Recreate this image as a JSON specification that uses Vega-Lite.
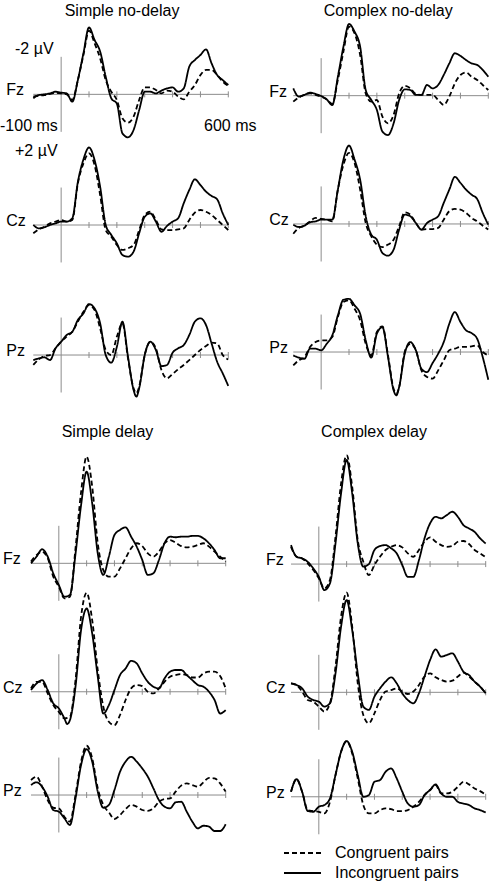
{
"$schema": "https://vega.github.io/schema/vega-lite/v6.json",
"padding": 0,
"background": "white",
"columns": 2,
"spacing": {"row": 0, "column": 30},
"align": "each",
"bounds": "flush",
"datasets": {
"ticks": [{"t":100},{"t":200},{"t":300},{"t":400},{"t":500},{"t":600}],
"SN_Fz": [
{"pair":"Incongruent pairs","t":-100,"v":0.21},{"pair":"Incongruent pairs","t":-80,"v":0.04},{"pair":"Incongruent pairs","t":-60,"v":0},{"pair":"Incongruent pairs","t":-40,"v":-0.05},{"pair":"Incongruent pairs","t":-20,"v":-0.14},{"pair":"Incongruent pairs","t":0,"v":-0.09},{"pair":"Incongruent pairs","t":20,"v":-0.05},{"pair":"Incongruent pairs","t":40,"v":0.39},{"pair":"Incongruent pairs","t":60,"v":-0.76},{"pair":"Incongruent pairs","t":80,"v":-2.19},{"pair":"Incongruent pairs","t":100,"v":-3.57},{"pair":"Incongruent pairs","t":120,"v":-2.9},{"pair":"Incongruent pairs","t":140,"v":-2.28},{"pair":"Incongruent pairs","t":160,"v":-0.94},{"pair":"Incongruent pairs","t":180,"v":0.21},{"pair":"Incongruent pairs","t":200,"v":0.5},{"pair":"Incongruent pairs","t":220,"v":2.08},{"pair":"Incongruent pairs","t":240,"v":2.29},{"pair":"Incongruent pairs","t":260,"v":1.9},{"pair":"Incongruent pairs","t":280,"v":0.84},{"pair":"Incongruent pairs","t":300,"v":-0.14},{"pair":"Incongruent pairs","t":320,"v":-0.14},{"pair":"Incongruent pairs","t":340,"v":-0.05},{"pair":"Incongruent pairs","t":360,"v":-0.2},{"pair":"Incongruent pairs","t":380,"v":-0.32},{"pair":"Incongruent pairs","t":400,"v":-0.37},{"pair":"Incongruent pairs","t":420,"v":-0.14},{"pair":"Incongruent pairs","t":440,"v":-0.32},{"pair":"Incongruent pairs","t":460,"v":-1.48},{"pair":"Incongruent pairs","t":480,"v":-1.83},{"pair":"Incongruent pairs","t":500,"v":-2.1},{"pair":"Incongruent pairs","t":520,"v":-2.4},{"pair":"Incongruent pairs","t":540,"v":-1.65},{"pair":"Incongruent pairs","t":560,"v":-1.03},{"pair":"Incongruent pairs","t":580,"v":-0.76},{"pair":"Incongruent pairs","t":600,"v":-0.5},
{"pair":"Congruent pairs","t":-100,"v":0.12},{"pair":"Congruent pairs","t":-80,"v":0.07},{"pair":"Congruent pairs","t":-60,"v":0.04},{"pair":"Congruent pairs","t":-40,"v":-0.02},{"pair":"Congruent pairs","t":-20,"v":-0.09},{"pair":"Congruent pairs","t":0,"v":-0.05},{"pair":"Congruent pairs","t":20,"v":0},{"pair":"Congruent pairs","t":40,"v":0.3},{"pair":"Congruent pairs","t":60,"v":-0.76},{"pair":"Congruent pairs","t":80,"v":-2.1},{"pair":"Congruent pairs","t":100,"v":-3.4},{"pair":"Congruent pairs","t":120,"v":-2.72},{"pair":"Congruent pairs","t":140,"v":-1.92},{"pair":"Congruent pairs","t":160,"v":-0.76},{"pair":"Congruent pairs","t":180,"v":-0.14},{"pair":"Congruent pairs","t":200,"v":0.3},{"pair":"Congruent pairs","t":220,"v":1.28},{"pair":"Congruent pairs","t":240,"v":1.51},{"pair":"Congruent pairs","t":260,"v":1.19},{"pair":"Congruent pairs","t":280,"v":0.3},{"pair":"Congruent pairs","t":300,"v":-0.37},{"pair":"Congruent pairs","t":320,"v":-0.37},{"pair":"Congruent pairs","t":340,"v":-0.23},{"pair":"Congruent pairs","t":360,"v":-0.05},{"pair":"Congruent pairs","t":380,"v":-0.2},{"pair":"Congruent pairs","t":400,"v":-0.14},{"pair":"Congruent pairs","t":420,"v":0.12},{"pair":"Congruent pairs","t":440,"v":0.27},{"pair":"Congruent pairs","t":460,"v":-0.14},{"pair":"Congruent pairs","t":480,"v":-0.5},{"pair":"Congruent pairs","t":500,"v":-1.03},{"pair":"Congruent pairs","t":520,"v":-1.3},{"pair":"Congruent pairs","t":540,"v":-1.3},{"pair":"Congruent pairs","t":560,"v":-1.03},{"pair":"Congruent pairs","t":580,"v":-0.68},{"pair":"Congruent pairs","t":600,"v":-0.44}
],
"CN_Fz": [
{"pair":"Incongruent pairs","t":-100,"v":-0.39},{"pair":"Incongruent pairs","t":-80,"v":0.05},{"pair":"Incongruent pairs","t":-60,"v":-0.04},{"pair":"Incongruent pairs","t":-40,"v":-0.16},{"pair":"Incongruent pairs","t":-20,"v":-0.09},{"pair":"Incongruent pairs","t":0,"v":0.02},{"pair":"Incongruent pairs","t":20,"v":0.2},{"pair":"Incongruent pairs","t":40,"v":0.5},{"pair":"Incongruent pairs","t":60,"v":-1.01},{"pair":"Incongruent pairs","t":80,"v":-2.61},{"pair":"Incongruent pairs","t":100,"v":-3.82},{"pair":"Incongruent pairs","t":120,"v":-3.41},{"pair":"Incongruent pairs","t":140,"v":-2.61},{"pair":"Incongruent pairs","t":160,"v":-0.3},{"pair":"Incongruent pairs","t":180,"v":0.23},{"pair":"Incongruent pairs","t":200,"v":0.76},{"pair":"Incongruent pairs","t":220,"v":1.92},{"pair":"Incongruent pairs","t":240,"v":2.1},{"pair":"Incongruent pairs","t":260,"v":1.48},{"pair":"Incongruent pairs","t":280,"v":0.23},{"pair":"Incongruent pairs","t":300,"v":-0.34},{"pair":"Incongruent pairs","t":320,"v":-0.3},{"pair":"Incongruent pairs","t":340,"v":-0.04},{"pair":"Incongruent pairs","t":360,"v":-0.04},{"pair":"Incongruent pairs","t":380,"v":-0.57},{"pair":"Incongruent pairs","t":400,"v":-0.39},{"pair":"Incongruent pairs","t":420,"v":-0.57},{"pair":"Incongruent pairs","t":440,"v":-1.1},{"pair":"Incongruent pairs","t":460,"v":-1.72},{"pair":"Incongruent pairs","t":480,"v":-2.26},{"pair":"Incongruent pairs","t":500,"v":-2.12},{"pair":"Incongruent pairs","t":520,"v":-1.9},{"pair":"Incongruent pairs","t":540,"v":-1.72},{"pair":"Incongruent pairs","t":560,"v":-1.64},{"pair":"Incongruent pairs","t":580,"v":-1.37},{"pair":"Incongruent pairs","t":600,"v":-1.01},
{"pair":"Congruent pairs","t":-100,"v":0.32},{"pair":"Congruent pairs","t":-80,"v":0.09},{"pair":"Congruent pairs","t":-60,"v":-0.04},{"pair":"Congruent pairs","t":-40,"v":-0.12},{"pair":"Congruent pairs","t":-20,"v":-0.04},{"pair":"Congruent pairs","t":0,"v":0.05},{"pair":"Congruent pairs","t":20,"v":0.2},{"pair":"Congruent pairs","t":40,"v":0.44},{"pair":"Congruent pairs","t":60,"v":-0.84},{"pair":"Congruent pairs","t":80,"v":-2.35},{"pair":"Congruent pairs","t":100,"v":-3.68},{"pair":"Congruent pairs","t":120,"v":-3.32},{"pair":"Congruent pairs","t":140,"v":-2.17},{"pair":"Congruent pairs","t":160,"v":-0.12},{"pair":"Congruent pairs","t":180,"v":0.32},{"pair":"Congruent pairs","t":200,"v":0.23},{"pair":"Congruent pairs","t":220,"v":1.12},{"pair":"Congruent pairs","t":240,"v":1.48},{"pair":"Congruent pairs","t":260,"v":1.03},{"pair":"Congruent pairs","t":280,"v":-0.12},{"pair":"Congruent pairs","t":300,"v":-0.52},{"pair":"Congruent pairs","t":320,"v":-0.39},{"pair":"Congruent pairs","t":340,"v":-0.09},{"pair":"Congruent pairs","t":360,"v":-0.04},{"pair":"Congruent pairs","t":380,"v":-0.04},{"pair":"Congruent pairs","t":400,"v":-0.04},{"pair":"Congruent pairs","t":420,"v":0.23},{"pair":"Congruent pairs","t":440,"v":0.5},{"pair":"Congruent pairs","t":460,"v":0.05},{"pair":"Congruent pairs","t":480,"v":-0.66},{"pair":"Congruent pairs","t":500,"v":-1.1},{"pair":"Congruent pairs","t":520,"v":-1.23},{"pair":"Congruent pairs","t":540,"v":-1.01},{"pair":"Congruent pairs","t":560,"v":-0.84},{"pair":"Congruent pairs","t":580,"v":-0.57},{"pair":"Congruent pairs","t":600,"v":-0.3}
],
"SN_Cz": [
{"pair":"Incongruent pairs","t":-100,"v":0},{"pair":"Incongruent pairs","t":-80,"v":0.18},{"pair":"Incongruent pairs","t":-60,"v":0.12},{"pair":"Incongruent pairs","t":-40,"v":0},{"pair":"Incongruent pairs","t":-20,"v":-0.09},{"pair":"Incongruent pairs","t":0,"v":-0.18},{"pair":"Incongruent pairs","t":20,"v":-0.18},{"pair":"Incongruent pairs","t":40,"v":-0.36},{"pair":"Incongruent pairs","t":60,"v":-2.3},{"pair":"Incongruent pairs","t":80,"v":-3.5},{"pair":"Incongruent pairs","t":100,"v":-4.14},{"pair":"Incongruent pairs","t":120,"v":-3.47},{"pair":"Incongruent pairs","t":140,"v":-2.04},{"pair":"Incongruent pairs","t":160,"v":0},{"pair":"Incongruent pairs","t":180,"v":0.53},{"pair":"Incongruent pairs","t":200,"v":0.98},{"pair":"Incongruent pairs","t":220,"v":1.6},{"pair":"Incongruent pairs","t":240,"v":1.69},{"pair":"Incongruent pairs","t":260,"v":1.42},{"pair":"Incongruent pairs","t":280,"v":0.44},{"pair":"Incongruent pairs","t":300,"v":-0.44},{"pair":"Incongruent pairs","t":320,"v":-0.62},{"pair":"Incongruent pairs","t":340,"v":-0.18},{"pair":"Incongruent pairs","t":360,"v":0.36},{"pair":"Incongruent pairs","t":380,"v":0.05},{"pair":"Incongruent pairs","t":400,"v":-0.18},{"pair":"Incongruent pairs","t":420,"v":-0.36},{"pair":"Incongruent pairs","t":440,"v":-1.16},{"pair":"Incongruent pairs","t":460,"v":-1.87},{"pair":"Incongruent pairs","t":480,"v":-2.44},{"pair":"Incongruent pairs","t":500,"v":-2.13},{"pair":"Incongruent pairs","t":520,"v":-1.78},{"pair":"Incongruent pairs","t":540,"v":-1.55},{"pair":"Incongruent pairs","t":560,"v":-1.37},{"pair":"Incongruent pairs","t":580,"v":-0.62},{"pair":"Incongruent pairs","t":600,"v":0},
{"pair":"Congruent pairs","t":-100,"v":0.44},{"pair":"Congruent pairs","t":-80,"v":0.23},{"pair":"Congruent pairs","t":-60,"v":0.09},{"pair":"Congruent pairs","t":-40,"v":-0.09},{"pair":"Congruent pairs","t":-20,"v":-0.18},{"pair":"Congruent pairs","t":0,"v":-0.27},{"pair":"Congruent pairs","t":20,"v":-0.18},{"pair":"Congruent pairs","t":40,"v":-0.27},{"pair":"Congruent pairs","t":60,"v":-2.22},{"pair":"Congruent pairs","t":80,"v":-3.29},{"pair":"Congruent pairs","t":100,"v":-3.82},{"pair":"Congruent pairs","t":120,"v":-3.2},{"pair":"Congruent pairs","t":140,"v":-1.6},{"pair":"Congruent pairs","t":160,"v":0.27},{"pair":"Congruent pairs","t":180,"v":0.62},{"pair":"Congruent pairs","t":200,"v":1.07},{"pair":"Congruent pairs","t":220,"v":1.33},{"pair":"Congruent pairs","t":240,"v":1.24},{"pair":"Congruent pairs","t":260,"v":1.07},{"pair":"Congruent pairs","t":280,"v":0.27},{"pair":"Congruent pairs","t":300,"v":-0.53},{"pair":"Congruent pairs","t":320,"v":-0.71},{"pair":"Congruent pairs","t":340,"v":-0.27},{"pair":"Congruent pairs","t":360,"v":0.23},{"pair":"Congruent pairs","t":380,"v":0.27},{"pair":"Congruent pairs","t":400,"v":0.27},{"pair":"Congruent pairs","t":420,"v":0.23},{"pair":"Congruent pairs","t":440,"v":0.18},{"pair":"Congruent pairs","t":460,"v":-0.27},{"pair":"Congruent pairs","t":480,"v":-0.66},{"pair":"Congruent pairs","t":500,"v":-0.8},{"pair":"Congruent pairs","t":520,"v":-0.71},{"pair":"Congruent pairs","t":540,"v":-0.53},{"pair":"Congruent pairs","t":560,"v":-0.27},{"pair":"Congruent pairs","t":580,"v":0},{"pair":"Congruent pairs","t":600,"v":0.27}
],
"CN_Cz": [
{"pair":"Incongruent pairs","t":-100,"v":0.04},{"pair":"Incongruent pairs","t":-80,"v":0.16},{"pair":"Incongruent pairs","t":-60,"v":0.09},{"pair":"Incongruent pairs","t":-40,"v":-0.09},{"pair":"Incongruent pairs","t":-20,"v":-0.14},{"pair":"Incongruent pairs","t":0,"v":-0.23},{"pair":"Incongruent pairs","t":20,"v":-0.23},{"pair":"Incongruent pairs","t":40,"v":-0.23},{"pair":"Incongruent pairs","t":60,"v":-1.83},{"pair":"Incongruent pairs","t":80,"v":-3.43},{"pair":"Incongruent pairs","t":100,"v":-4.18},{"pair":"Incongruent pairs","t":120,"v":-3.43},{"pair":"Incongruent pairs","t":140,"v":-2.36},{"pair":"Incongruent pairs","t":160,"v":-0.41},{"pair":"Incongruent pairs","t":180,"v":0.57},{"pair":"Incongruent pairs","t":200,"v":0.84},{"pair":"Incongruent pairs","t":220,"v":1.55},{"pair":"Incongruent pairs","t":240,"v":1.69},{"pair":"Incongruent pairs","t":260,"v":1.37},{"pair":"Incongruent pairs","t":280,"v":0.3},{"pair":"Incongruent pairs","t":300,"v":-0.5},{"pair":"Incongruent pairs","t":320,"v":-0.41},{"pair":"Incongruent pairs","t":340,"v":-0.05},{"pair":"Incongruent pairs","t":360,"v":0.3},{"pair":"Incongruent pairs","t":380,"v":-0.05},{"pair":"Incongruent pairs","t":400,"v":-0.23},{"pair":"Incongruent pairs","t":420,"v":-0.41},{"pair":"Incongruent pairs","t":440,"v":-1.12},{"pair":"Incongruent pairs","t":460,"v":-1.83},{"pair":"Incongruent pairs","t":480,"v":-2.51},{"pair":"Incongruent pairs","t":500,"v":-2.19},{"pair":"Incongruent pairs","t":520,"v":-1.83},{"pair":"Incongruent pairs","t":540,"v":-1.56},{"pair":"Incongruent pairs","t":560,"v":-1.33},{"pair":"Incongruent pairs","t":580,"v":-0.59},{"pair":"Incongruent pairs","t":600,"v":0.04},
{"pair":"Congruent pairs","t":-100,"v":0.52},{"pair":"Congruent pairs","t":-80,"v":0.21},{"pair":"Congruent pairs","t":-60,"v":0.09},{"pair":"Congruent pairs","t":-40,"v":-0.14},{"pair":"Congruent pairs","t":-20,"v":-0.32},{"pair":"Congruent pairs","t":0,"v":-0.27},{"pair":"Congruent pairs","t":20,"v":-0.23},{"pair":"Congruent pairs","t":40,"v":-0.14},{"pair":"Congruent pairs","t":60,"v":-1.83},{"pair":"Congruent pairs","t":80,"v":-3.16},{"pair":"Congruent pairs","t":100,"v":-3.79},{"pair":"Congruent pairs","t":120,"v":-3.25},{"pair":"Congruent pairs","t":140,"v":-1.83},{"pair":"Congruent pairs","t":160,"v":-0.05},{"pair":"Congruent pairs","t":180,"v":0.66},{"pair":"Congruent pairs","t":200,"v":1.1},{"pair":"Congruent pairs","t":220,"v":1.23},{"pair":"Congruent pairs","t":240,"v":1.1},{"pair":"Congruent pairs","t":260,"v":0.84},{"pair":"Congruent pairs","t":280,"v":0.12},{"pair":"Congruent pairs","t":300,"v":-0.62},{"pair":"Congruent pairs","t":320,"v":-0.5},{"pair":"Congruent pairs","t":340,"v":-0.05},{"pair":"Congruent pairs","t":360,"v":0.3},{"pair":"Congruent pairs","t":380,"v":0.27},{"pair":"Congruent pairs","t":400,"v":0.27},{"pair":"Congruent pairs","t":420,"v":0.21},{"pair":"Congruent pairs","t":440,"v":-0.23},{"pair":"Congruent pairs","t":460,"v":-0.68},{"pair":"Congruent pairs","t":480,"v":-0.8},{"pair":"Congruent pairs","t":500,"v":-0.76},{"pair":"Congruent pairs","t":520,"v":-0.59},{"pair":"Congruent pairs","t":540,"v":-0.32},{"pair":"Congruent pairs","t":560,"v":-0.14},{"pair":"Congruent pairs","t":580,"v":0.09},{"pair":"Congruent pairs","t":600,"v":0.3}
],
"SN_Pz": [
{"pair":"Incongruent pairs","t":-100,"v":0.27},{"pair":"Incongruent pairs","t":-80,"v":0.18},{"pair":"Incongruent pairs","t":-60,"v":0.12},{"pair":"Incongruent pairs","t":-40,"v":0.27},{"pair":"Incongruent pairs","t":-20,"v":-0.36},{"pair":"Incongruent pairs","t":0,"v":-0.71},{"pair":"Incongruent pairs","t":20,"v":-1.07},{"pair":"Incongruent pairs","t":40,"v":-1.24},{"pair":"Incongruent pairs","t":60,"v":-1.87},{"pair":"Incongruent pairs","t":80,"v":-2.22},{"pair":"Incongruent pairs","t":100,"v":-2.72},{"pair":"Incongruent pairs","t":120,"v":-2.49},{"pair":"Incongruent pairs","t":140,"v":-1.69},{"pair":"Incongruent pairs","t":160,"v":0},{"pair":"Incongruent pairs","t":180,"v":0.41},{"pair":"Incongruent pairs","t":200,"v":-0.44},{"pair":"Incongruent pairs","t":220,"v":-1.78},{"pair":"Incongruent pairs","t":240,"v":0.09},{"pair":"Incongruent pairs","t":260,"v":1.87},{"pair":"Incongruent pairs","t":270,"v":2.22},{"pair":"Incongruent pairs","t":280,"v":1.78},{"pair":"Incongruent pairs","t":300,"v":0},{"pair":"Incongruent pairs","t":320,"v":-0.71},{"pair":"Incongruent pairs","t":340,"v":-0.27},{"pair":"Incongruent pairs","t":360,"v":0.59},{"pair":"Incongruent pairs","t":380,"v":0.53},{"pair":"Incongruent pairs","t":400,"v":-0.12},{"pair":"Incongruent pairs","t":420,"v":-0.36},{"pair":"Incongruent pairs","t":440,"v":-0.53},{"pair":"Incongruent pairs","t":460,"v":-1.07},{"pair":"Incongruent pairs","t":480,"v":-1.78},{"pair":"Incongruent pairs","t":500,"v":-1.96},{"pair":"Incongruent pairs","t":520,"v":-1.6},{"pair":"Incongruent pairs","t":540,"v":-0.62},{"pair":"Incongruent pairs","t":560,"v":0.36},{"pair":"Incongruent pairs","t":580,"v":0.98},{"pair":"Incongruent pairs","t":600,"v":1.65},
{"pair":"Congruent pairs","t":-100,"v":0.53},{"pair":"Congruent pairs","t":-80,"v":0.23},{"pair":"Congruent pairs","t":-60,"v":0.05},{"pair":"Congruent pairs","t":-40,"v":0},{"pair":"Congruent pairs","t":-20,"v":-0.36},{"pair":"Congruent pairs","t":0,"v":-0.71},{"pair":"Congruent pairs","t":20,"v":-0.98},{"pair":"Congruent pairs","t":40,"v":-1.24},{"pair":"Congruent pairs","t":60,"v":-1.78},{"pair":"Congruent pairs","t":80,"v":-2.31},{"pair":"Congruent pairs","t":100,"v":-2.67},{"pair":"Congruent pairs","t":120,"v":-2.4},{"pair":"Congruent pairs","t":140,"v":-1.42},{"pair":"Congruent pairs","t":160,"v":-0.27},{"pair":"Congruent pairs","t":180,"v":0},{"pair":"Congruent pairs","t":200,"v":-0.98},{"pair":"Congruent pairs","t":220,"v":-1.69},{"pair":"Congruent pairs","t":240,"v":0.18},{"pair":"Congruent pairs","t":260,"v":1.78},{"pair":"Congruent pairs","t":270,"v":2.04},{"pair":"Congruent pairs","t":280,"v":1.69},{"pair":"Congruent pairs","t":300,"v":0},{"pair":"Congruent pairs","t":320,"v":-0.71},{"pair":"Congruent pairs","t":340,"v":-0.36},{"pair":"Congruent pairs","t":360,"v":0.8},{"pair":"Congruent pairs","t":380,"v":1.24},{"pair":"Congruent pairs","t":400,"v":1.01},{"pair":"Congruent pairs","t":420,"v":0.76},{"pair":"Congruent pairs","t":440,"v":0.53},{"pair":"Congruent pairs","t":460,"v":0.27},{"pair":"Congruent pairs","t":480,"v":0},{"pair":"Congruent pairs","t":500,"v":-0.27},{"pair":"Congruent pairs","t":520,"v":-0.48},{"pair":"Congruent pairs","t":540,"v":-0.66},{"pair":"Congruent pairs","t":560,"v":-0.62},{"pair":"Congruent pairs","t":580,"v":0},{"pair":"Congruent pairs","t":600,"v":0.23}
],
"CN_Pz": [
{"pair":"Incongruent pairs","t":-100,"v":0.18},{"pair":"Incongruent pairs","t":-80,"v":0.3},{"pair":"Incongruent pairs","t":-60,"v":0.36},{"pair":"Incongruent pairs","t":-40,"v":-0.18},{"pair":"Incongruent pairs","t":-20,"v":-0.18},{"pair":"Incongruent pairs","t":0,"v":-0.09},{"pair":"Incongruent pairs","t":20,"v":-0.44},{"pair":"Incongruent pairs","t":40,"v":-0.89},{"pair":"Incongruent pairs","t":60,"v":-1.96},{"pair":"Incongruent pairs","t":80,"v":-2.79},{"pair":"Incongruent pairs","t":100,"v":-2.84},{"pair":"Incongruent pairs","t":120,"v":-2.49},{"pair":"Incongruent pairs","t":140,"v":-2.04},{"pair":"Incongruent pairs","t":160,"v":-0.62},{"pair":"Incongruent pairs","t":180,"v":0.3},{"pair":"Incongruent pairs","t":200,"v":-0.98},{"pair":"Incongruent pairs","t":220,"v":-1.33},{"pair":"Incongruent pairs","t":240,"v":0.27},{"pair":"Incongruent pairs","t":260,"v":2.04},{"pair":"Incongruent pairs","t":270,"v":2.31},{"pair":"Incongruent pairs","t":280,"v":1.87},{"pair":"Incongruent pairs","t":300,"v":0.09},{"pair":"Incongruent pairs","t":320,"v":-0.53},{"pair":"Incongruent pairs","t":340,"v":-0.09},{"pair":"Incongruent pairs","t":360,"v":0.89},{"pair":"Incongruent pairs","t":380,"v":1.07},{"pair":"Incongruent pairs","t":400,"v":0.59},{"pair":"Incongruent pairs","t":420,"v":0.09},{"pair":"Incongruent pairs","t":440,"v":-0.53},{"pair":"Incongruent pairs","t":460,"v":-1.51},{"pair":"Incongruent pairs","t":480,"v":-2.13},{"pair":"Incongruent pairs","t":500,"v":-1.6},{"pair":"Incongruent pairs","t":520,"v":-1.16},{"pair":"Incongruent pairs","t":540,"v":-1.01},{"pair":"Incongruent pairs","t":560,"v":-0.71},{"pair":"Incongruent pairs","t":580,"v":0.27},{"pair":"Incongruent pairs","t":600,"v":1.48},
{"pair":"Congruent pairs","t":-100,"v":0.71},{"pair":"Congruent pairs","t":-80,"v":0.44},{"pair":"Congruent pairs","t":-60,"v":0.27},{"pair":"Congruent pairs","t":-40,"v":-0.27},{"pair":"Congruent pairs","t":-20,"v":-0.53},{"pair":"Congruent pairs","t":0,"v":-0.62},{"pair":"Congruent pairs","t":20,"v":-0.62},{"pair":"Congruent pairs","t":40,"v":-0.8},{"pair":"Congruent pairs","t":60,"v":-1.87},{"pair":"Congruent pairs","t":80,"v":-2.67},{"pair":"Congruent pairs","t":100,"v":-2.76},{"pair":"Congruent pairs","t":120,"v":-2.31},{"pair":"Congruent pairs","t":140,"v":-1.69},{"pair":"Congruent pairs","t":160,"v":-0.44},{"pair":"Congruent pairs","t":180,"v":0.18},{"pair":"Congruent pairs","t":200,"v":-1.07},{"pair":"Congruent pairs","t":220,"v":-1.37},{"pair":"Congruent pairs","t":240,"v":0.18},{"pair":"Congruent pairs","t":260,"v":1.96},{"pair":"Congruent pairs","t":270,"v":2.22},{"pair":"Congruent pairs","t":280,"v":1.87},{"pair":"Congruent pairs","t":300,"v":0},{"pair":"Congruent pairs","t":320,"v":-0.44},{"pair":"Congruent pairs","t":340,"v":-0.09},{"pair":"Congruent pairs","t":360,"v":0.98},{"pair":"Congruent pairs","t":380,"v":1.33},{"pair":"Congruent pairs","t":400,"v":1.42},{"pair":"Congruent pairs","t":420,"v":0.98},{"pair":"Congruent pairs","t":440,"v":0.44},{"pair":"Congruent pairs","t":460,"v":-0.09},{"pair":"Congruent pairs","t":480,"v":-0.18},{"pair":"Congruent pairs","t":500,"v":-0.27},{"pair":"Congruent pairs","t":520,"v":-0.27},{"pair":"Congruent pairs","t":540,"v":-0.3},{"pair":"Congruent pairs","t":560,"v":-0.36},{"pair":"Congruent pairs","t":580,"v":0},{"pair":"Congruent pairs","t":600,"v":0.18}
],
"SD_Fz": [
{"pair":"Incongruent pairs","t":-100,"v":0},{"pair":"Incongruent pairs","t":-80,"v":-0.36},{"pair":"Incongruent pairs","t":-60,"v":-0.75},{"pair":"Incongruent pairs","t":-40,"v":-0.36},{"pair":"Incongruent pairs","t":-20,"v":0.53},{"pair":"Incongruent pairs","t":0,"v":1.16},{"pair":"Incongruent pairs","t":20,"v":1.78},{"pair":"Incongruent pairs","t":40,"v":1.69},{"pair":"Incongruent pairs","t":60,"v":-0.5},{"pair":"Incongruent pairs","t":80,"v":-3.1},{"pair":"Incongruent pairs","t":100,"v":-4.89},{"pair":"Incongruent pairs","t":120,"v":-3.2},{"pair":"Incongruent pairs","t":140,"v":-0.53},{"pair":"Incongruent pairs","t":160,"v":0.62},{"pair":"Incongruent pairs","t":180,"v":-0.36},{"pair":"Incongruent pairs","t":200,"v":-1.51},{"pair":"Incongruent pairs","t":220,"v":-1.78},{"pair":"Incongruent pairs","t":240,"v":-1.92},{"pair":"Incongruent pairs","t":260,"v":-1.42},{"pair":"Incongruent pairs","t":280,"v":-0.89},{"pair":"Incongruent pairs","t":300,"v":-0.18},{"pair":"Incongruent pairs","t":320,"v":0.62},{"pair":"Incongruent pairs","t":340,"v":0.53},{"pair":"Incongruent pairs","t":360,"v":-0.18},{"pair":"Incongruent pairs","t":380,"v":-1.07},{"pair":"Incongruent pairs","t":400,"v":-1.42},{"pair":"Incongruent pairs","t":420,"v":-1.39},{"pair":"Incongruent pairs","t":440,"v":-1.42},{"pair":"Incongruent pairs","t":460,"v":-1.42},{"pair":"Incongruent pairs","t":480,"v":-1.46},{"pair":"Incongruent pairs","t":500,"v":-1.46},{"pair":"Incongruent pairs","t":520,"v":-1.33},{"pair":"Incongruent pairs","t":540,"v":-1.07},{"pair":"Incongruent pairs","t":560,"v":-0.71},{"pair":"Incongruent pairs","t":580,"v":-0.27},{"pair":"Incongruent pairs","t":600,"v":-0.27},
{"pair":"Congruent pairs","t":-100,"v":-0.09},{"pair":"Congruent pairs","t":-80,"v":-0.44},{"pair":"Congruent pairs","t":-60,"v":-0.62},{"pair":"Congruent pairs","t":-40,"v":-0.27},{"pair":"Congruent pairs","t":-20,"v":0.71},{"pair":"Congruent pairs","t":0,"v":1.24},{"pair":"Congruent pairs","t":20,"v":1.87},{"pair":"Congruent pairs","t":40,"v":1.78},{"pair":"Congruent pairs","t":60,"v":-0.8},{"pair":"Congruent pairs","t":80,"v":-3.8},{"pair":"Congruent pairs","t":100,"v":-5.69},{"pair":"Congruent pairs","t":120,"v":-4.09},{"pair":"Congruent pairs","t":140,"v":-1.07},{"pair":"Congruent pairs","t":160,"v":0.36},{"pair":"Congruent pairs","t":180,"v":0.71},{"pair":"Congruent pairs","t":200,"v":0.71},{"pair":"Congruent pairs","t":220,"v":0.27},{"pair":"Congruent pairs","t":240,"v":-0.27},{"pair":"Congruent pairs","t":260,"v":-0.8},{"pair":"Congruent pairs","t":280,"v":-1.07},{"pair":"Congruent pairs","t":300,"v":-0.92},{"pair":"Congruent pairs","t":320,"v":-0.53},{"pair":"Congruent pairs","t":340,"v":-0.36},{"pair":"Congruent pairs","t":360,"v":-0.62},{"pair":"Congruent pairs","t":380,"v":-1.07},{"pair":"Congruent pairs","t":400,"v":-1.24},{"pair":"Congruent pairs","t":420,"v":-1.1},{"pair":"Congruent pairs","t":440,"v":-0.92},{"pair":"Congruent pairs","t":460,"v":-0.85},{"pair":"Congruent pairs","t":480,"v":-0.89},{"pair":"Congruent pairs","t":500,"v":-0.98},{"pair":"Congruent pairs","t":520,"v":-1.07},{"pair":"Congruent pairs","t":540,"v":-0.89},{"pair":"Congruent pairs","t":560,"v":-0.62},{"pair":"Congruent pairs","t":580,"v":-0.36},{"pair":"Congruent pairs","t":600,"v":-0.09}
],
"CD_Fz": [
{"pair":"Incongruent pairs","t":-100,"v":-1.01},{"pair":"Incongruent pairs","t":-80,"v":-0.39},{"pair":"Incongruent pairs","t":-60,"v":-0.3},{"pair":"Incongruent pairs","t":-40,"v":-0.12},{"pair":"Incongruent pairs","t":-20,"v":0.23},{"pair":"Incongruent pairs","t":0,"v":0.68},{"pair":"Incongruent pairs","t":20,"v":1.39},{"pair":"Incongruent pairs","t":40,"v":1.03},{"pair":"Incongruent pairs","t":60,"v":-1.1},{"pair":"Incongruent pairs","t":80,"v":-3.77},{"pair":"Incongruent pairs","t":100,"v":-5.55},{"pair":"Incongruent pairs","t":120,"v":-3.77},{"pair":"Incongruent pairs","t":140,"v":-1.1},{"pair":"Incongruent pairs","t":160,"v":0.14},{"pair":"Incongruent pairs","t":180,"v":0},{"pair":"Incongruent pairs","t":200,"v":-0.75},{"pair":"Incongruent pairs","t":220,"v":-0.96},{"pair":"Incongruent pairs","t":240,"v":-1.01},{"pair":"Incongruent pairs","t":260,"v":-0.84},{"pair":"Incongruent pairs","t":280,"v":-0.57},{"pair":"Incongruent pairs","t":300,"v":0.05},{"pair":"Incongruent pairs","t":320,"v":0.68},{"pair":"Incongruent pairs","t":340,"v":0.68},{"pair":"Incongruent pairs","t":360,"v":-0.21},{"pair":"Incongruent pairs","t":380,"v":-1.37},{"pair":"Incongruent pairs","t":400,"v":-2.17},{"pair":"Incongruent pairs","t":420,"v":-2.52},{"pair":"Incongruent pairs","t":440,"v":-2.44},{"pair":"Incongruent pairs","t":460,"v":-2.61},{"pair":"Incongruent pairs","t":480,"v":-2.79},{"pair":"Incongruent pairs","t":500,"v":-2.52},{"pair":"Incongruent pairs","t":520,"v":-2.08},{"pair":"Incongruent pairs","t":540,"v":-1.9},{"pair":"Incongruent pairs","t":560,"v":-1.72},{"pair":"Incongruent pairs","t":580,"v":-1.37},{"pair":"Incongruent pairs","t":600,"v":-1.1},
{"pair":"Congruent pairs","t":-100,"v":-0.92},{"pair":"Congruent pairs","t":-80,"v":-0.39},{"pair":"Congruent pairs","t":-60,"v":-0.3},{"pair":"Congruent pairs","t":-40,"v":-0.04},{"pair":"Congruent pairs","t":-20,"v":0.32},{"pair":"Congruent pairs","t":0,"v":0.76},{"pair":"Congruent pairs","t":20,"v":1.3},{"pair":"Congruent pairs","t":40,"v":0.85},{"pair":"Congruent pairs","t":60,"v":-1.46},{"pair":"Congruent pairs","t":80,"v":-4.3},{"pair":"Congruent pairs","t":100,"v":-5.81},{"pair":"Congruent pairs","t":120,"v":-4.12},{"pair":"Congruent pairs","t":140,"v":-1.28},{"pair":"Congruent pairs","t":160,"v":-0.12},{"pair":"Congruent pairs","t":180,"v":0.59},{"pair":"Congruent pairs","t":200,"v":0.05},{"pair":"Congruent pairs","t":220,"v":-0.39},{"pair":"Congruent pairs","t":240,"v":-0.75},{"pair":"Congruent pairs","t":260,"v":-0.92},{"pair":"Congruent pairs","t":280,"v":-1.01},{"pair":"Congruent pairs","t":300,"v":-0.89},{"pair":"Congruent pairs","t":320,"v":-0.57},{"pair":"Congruent pairs","t":340,"v":-0.39},{"pair":"Congruent pairs","t":360,"v":-0.75},{"pair":"Congruent pairs","t":380,"v":-1.19},{"pair":"Congruent pairs","t":400,"v":-1.42},{"pair":"Congruent pairs","t":420,"v":-1.19},{"pair":"Congruent pairs","t":440,"v":-1.01},{"pair":"Congruent pairs","t":460,"v":-0.92},{"pair":"Congruent pairs","t":480,"v":-0.96},{"pair":"Congruent pairs","t":500,"v":-1.19},{"pair":"Congruent pairs","t":520,"v":-1.23},{"pair":"Congruent pairs","t":540,"v":-1.07},{"pair":"Congruent pairs","t":560,"v":-0.75},{"pair":"Congruent pairs","t":580,"v":-0.57},{"pair":"Congruent pairs","t":600,"v":-0.36}
],
"SD_Cz": [
{"pair":"Incongruent pairs","t":-100,"v":-0.09},{"pair":"Incongruent pairs","t":-80,"v":-0.44},{"pair":"Incongruent pairs","t":-60,"v":-0.62},{"pair":"Incongruent pairs","t":-40,"v":-0.09},{"pair":"Incongruent pairs","t":-20,"v":0.62},{"pair":"Incongruent pairs","t":0,"v":0.89},{"pair":"Incongruent pairs","t":20,"v":1.42},{"pair":"Incongruent pairs","t":30,"v":1.72},{"pair":"Incongruent pairs","t":40,"v":1.51},{"pair":"Incongruent pairs","t":60,"v":-0.27},{"pair":"Incongruent pairs","t":80,"v":-3.29},{"pair":"Incongruent pairs","t":100,"v":-4.44},{"pair":"Incongruent pairs","t":120,"v":-3.11},{"pair":"Incongruent pairs","t":140,"v":-0.8},{"pair":"Incongruent pairs","t":160,"v":1.16},{"pair":"Incongruent pairs","t":180,"v":0.71},{"pair":"Incongruent pairs","t":200,"v":-0.09},{"pair":"Incongruent pairs","t":220,"v":-0.89},{"pair":"Incongruent pairs","t":240,"v":-1.24},{"pair":"Incongruent pairs","t":260,"v":-1.65},{"pair":"Incongruent pairs","t":280,"v":-1.51},{"pair":"Incongruent pairs","t":300,"v":-0.98},{"pair":"Incongruent pairs","t":320,"v":-0.53},{"pair":"Incongruent pairs","t":340,"v":-0.27},{"pair":"Incongruent pairs","t":360,"v":-0.18},{"pair":"Incongruent pairs","t":380,"v":-0.71},{"pair":"Incongruent pairs","t":400,"v":-1.07},{"pair":"Incongruent pairs","t":420,"v":-1.16},{"pair":"Incongruent pairs","t":440,"v":-1.16},{"pair":"Incongruent pairs","t":460,"v":-0.89},{"pair":"Incongruent pairs","t":480,"v":-0.62},{"pair":"Incongruent pairs","t":500,"v":-0.36},{"pair":"Incongruent pairs","t":520,"v":-0.27},{"pair":"Incongruent pairs","t":540,"v":0},{"pair":"Incongruent pairs","t":560,"v":0.44},{"pair":"Incongruent pairs","t":580,"v":1.16},{"pair":"Incongruent pairs","t":600,"v":0.98},
{"pair":"Congruent pairs","t":-100,"v":-0.18},{"pair":"Congruent pairs","t":-80,"v":-0.53},{"pair":"Congruent pairs","t":-60,"v":-0.53},{"pair":"Congruent pairs","t":-40,"v":0.09},{"pair":"Congruent pairs","t":-20,"v":0.71},{"pair":"Congruent pairs","t":0,"v":1.07},{"pair":"Congruent pairs","t":20,"v":1.42},{"pair":"Congruent pairs","t":40,"v":1.33},{"pair":"Congruent pairs","t":60,"v":-0.62},{"pair":"Congruent pairs","t":80,"v":-4},{"pair":"Congruent pairs","t":100,"v":-5.28},{"pair":"Congruent pairs","t":120,"v":-3.82},{"pair":"Congruent pairs","t":140,"v":-1.16},{"pair":"Congruent pairs","t":160,"v":0.8},{"pair":"Congruent pairs","t":180,"v":1.6},{"pair":"Congruent pairs","t":200,"v":1.78},{"pair":"Congruent pairs","t":220,"v":1.24},{"pair":"Congruent pairs","t":240,"v":0.44},{"pair":"Congruent pairs","t":260,"v":-0.18},{"pair":"Congruent pairs","t":280,"v":-0.36},{"pair":"Congruent pairs","t":300,"v":-0.3},{"pair":"Congruent pairs","t":320,"v":0},{"pair":"Congruent pairs","t":340,"v":0.09},{"pair":"Congruent pairs","t":360,"v":-0.18},{"pair":"Congruent pairs","t":380,"v":-0.53},{"pair":"Congruent pairs","t":400,"v":-0.8},{"pair":"Congruent pairs","t":420,"v":-0.89},{"pair":"Congruent pairs","t":440,"v":-0.94},{"pair":"Congruent pairs","t":460,"v":-0.89},{"pair":"Congruent pairs","t":480,"v":-0.76},{"pair":"Congruent pairs","t":500,"v":-0.76},{"pair":"Congruent pairs","t":520,"v":-0.98},{"pair":"Congruent pairs","t":540,"v":-1.07},{"pair":"Congruent pairs","t":560,"v":-1.07},{"pair":"Congruent pairs","t":580,"v":-0.84},{"pair":"Congruent pairs","t":600,"v":-0.18}
],
"CD_Cz": [
{"pair":"Incongruent pairs","t":-100,"v":-0.48},{"pair":"Incongruent pairs","t":-80,"v":-0.39},{"pair":"Incongruent pairs","t":-60,"v":-0.21},{"pair":"Incongruent pairs","t":-40,"v":0.23},{"pair":"Incongruent pairs","t":-20,"v":0.41},{"pair":"Incongruent pairs","t":0,"v":0.5},{"pair":"Incongruent pairs","t":20,"v":0.76},{"pair":"Incongruent pairs","t":40,"v":0.59},{"pair":"Incongruent pairs","t":60,"v":-1.01},{"pair":"Incongruent pairs","t":80,"v":-3.5},{"pair":"Incongruent pairs","t":100,"v":-4.92},{"pair":"Incongruent pairs","t":120,"v":-3.32},{"pair":"Incongruent pairs","t":140,"v":-1.01},{"pair":"Incongruent pairs","t":160,"v":0.76},{"pair":"Incongruent pairs","t":180,"v":0.94},{"pair":"Incongruent pairs","t":200,"v":0.23},{"pair":"Incongruent pairs","t":220,"v":-0.21},{"pair":"Incongruent pairs","t":240,"v":-0.57},{"pair":"Incongruent pairs","t":260,"v":-0.8},{"pair":"Incongruent pairs","t":280,"v":-0.48},{"pair":"Incongruent pairs","t":300,"v":0.05},{"pair":"Incongruent pairs","t":320,"v":0.41},{"pair":"Incongruent pairs","t":340,"v":0.59},{"pair":"Incongruent pairs","t":360,"v":0.05},{"pair":"Incongruent pairs","t":380,"v":-0.84},{"pair":"Incongruent pairs","t":400,"v":-1.72},{"pair":"Incongruent pairs","t":420,"v":-2.29},{"pair":"Incongruent pairs","t":440,"v":-1.9},{"pair":"Incongruent pairs","t":460,"v":-1.99},{"pair":"Incongruent pairs","t":480,"v":-2.08},{"pair":"Incongruent pairs","t":500,"v":-1.64},{"pair":"Incongruent pairs","t":520,"v":-1.1},{"pair":"Incongruent pairs","t":540,"v":-0.92},{"pair":"Incongruent pairs","t":560,"v":-0.57},{"pair":"Incongruent pairs","t":580,"v":-0.3},{"pair":"Incongruent pairs","t":600,"v":0.05},
{"pair":"Congruent pairs","t":-100,"v":-0.48},{"pair":"Congruent pairs","t":-80,"v":-0.39},{"pair":"Congruent pairs","t":-60,"v":-0.04},{"pair":"Congruent pairs","t":-40,"v":0.41},{"pair":"Congruent pairs","t":-20,"v":0.5},{"pair":"Congruent pairs","t":0,"v":0.76},{"pair":"Congruent pairs","t":20,"v":1.03},{"pair":"Congruent pairs","t":40,"v":0.59},{"pair":"Congruent pairs","t":60,"v":-1.37},{"pair":"Congruent pairs","t":80,"v":-4.04},{"pair":"Congruent pairs","t":100,"v":-5.32},{"pair":"Congruent pairs","t":120,"v":-3.5},{"pair":"Congruent pairs","t":140,"v":-0.48},{"pair":"Congruent pairs","t":160,"v":1.21},{"pair":"Congruent pairs","t":180,"v":1.65},{"pair":"Congruent pairs","t":200,"v":1.12},{"pair":"Congruent pairs","t":220,"v":0.41},{"pair":"Congruent pairs","t":240,"v":-0.04},{"pair":"Congruent pairs","t":260,"v":-0.12},{"pair":"Congruent pairs","t":280,"v":-0.21},{"pair":"Congruent pairs","t":300,"v":-0.04},{"pair":"Congruent pairs","t":320,"v":0.09},{"pair":"Congruent pairs","t":340,"v":-0.04},{"pair":"Congruent pairs","t":360,"v":-0.39},{"pair":"Congruent pairs","t":380,"v":-0.84},{"pair":"Congruent pairs","t":400,"v":-1.01},{"pair":"Congruent pairs","t":420,"v":-0.8},{"pair":"Congruent pairs","t":440,"v":-0.66},{"pair":"Congruent pairs","t":460,"v":-0.57},{"pair":"Congruent pairs","t":480,"v":-0.62},{"pair":"Congruent pairs","t":500,"v":-0.84},{"pair":"Congruent pairs","t":520,"v":-1.05},{"pair":"Congruent pairs","t":540,"v":-0.84},{"pair":"Congruent pairs","t":560,"v":-0.57},{"pair":"Congruent pairs","t":580,"v":-0.3},{"pair":"Congruent pairs","t":600,"v":0.05}
],
"SD_Pz": [
{"pair":"Incongruent pairs","t":-100,"v":-0.53},{"pair":"Incongruent pairs","t":-80,"v":-0.68},{"pair":"Incongruent pairs","t":-60,"v":-0.44},{"pair":"Incongruent pairs","t":-40,"v":0.09},{"pair":"Incongruent pairs","t":-20,"v":0.8},{"pair":"Incongruent pairs","t":0,"v":0.89},{"pair":"Incongruent pairs","t":20,"v":1.24},{"pair":"Incongruent pairs","t":40,"v":1.6},{"pair":"Incongruent pairs","t":60,"v":0.18},{"pair":"Incongruent pairs","t":80,"v":-1.6},{"pair":"Incongruent pairs","t":100,"v":-2.45},{"pair":"Incongruent pairs","t":120,"v":-1.78},{"pair":"Incongruent pairs","t":140,"v":-0.18},{"pair":"Incongruent pairs","t":160,"v":0.68},{"pair":"Incongruent pairs","t":180,"v":0.53},{"pair":"Incongruent pairs","t":200,"v":-0.27},{"pair":"Incongruent pairs","t":220,"v":-1.24},{"pair":"Incongruent pairs","t":240,"v":-1.78},{"pair":"Incongruent pairs","t":260,"v":-2.04},{"pair":"Incongruent pairs","t":280,"v":-1.78},{"pair":"Incongruent pairs","t":300,"v":-1.42},{"pair":"Incongruent pairs","t":320,"v":-0.98},{"pair":"Incongruent pairs","t":340,"v":-0.36},{"pair":"Incongruent pairs","t":360,"v":0.27},{"pair":"Incongruent pairs","t":380,"v":0.62},{"pair":"Incongruent pairs","t":400,"v":0.71},{"pair":"Incongruent pairs","t":420,"v":0.39},{"pair":"Incongruent pairs","t":440,"v":0.36},{"pair":"Incongruent pairs","t":460,"v":0.89},{"pair":"Incongruent pairs","t":480,"v":1.42},{"pair":"Incongruent pairs","t":500,"v":1.78},{"pair":"Incongruent pairs","t":520,"v":1.64},{"pair":"Incongruent pairs","t":540,"v":1.69},{"pair":"Incongruent pairs","t":560,"v":1.92},{"pair":"Incongruent pairs","t":580,"v":1.92},{"pair":"Incongruent pairs","t":600,"v":1.56},
{"pair":"Congruent pairs","t":-100,"v":-0.8},{"pair":"Congruent pairs","t":-80,"v":-0.98},{"pair":"Congruent pairs","t":-60,"v":-0.44},{"pair":"Congruent pairs","t":-40,"v":0.27},{"pair":"Congruent pairs","t":-20,"v":0.68},{"pair":"Congruent pairs","t":0,"v":0.71},{"pair":"Congruent pairs","t":20,"v":1.16},{"pair":"Congruent pairs","t":40,"v":1.42},{"pair":"Congruent pairs","t":60,"v":0},{"pair":"Congruent pairs","t":80,"v":-1.78},{"pair":"Congruent pairs","t":100,"v":-2.63},{"pair":"Congruent pairs","t":120,"v":-1.96},{"pair":"Congruent pairs","t":140,"v":-0.36},{"pair":"Congruent pairs","t":160,"v":0.53},{"pair":"Congruent pairs","t":180,"v":0.92},{"pair":"Congruent pairs","t":200,"v":1.28},{"pair":"Congruent pairs","t":220,"v":1.07},{"pair":"Congruent pairs","t":240,"v":0.75},{"pair":"Congruent pairs","t":260,"v":0.53},{"pair":"Congruent pairs","t":280,"v":0.62},{"pair":"Congruent pairs","t":300,"v":0.8},{"pair":"Congruent pairs","t":320,"v":0.85},{"pair":"Congruent pairs","t":340,"v":0.71},{"pair":"Congruent pairs","t":360,"v":0.36},{"pair":"Congruent pairs","t":380,"v":0.21},{"pair":"Congruent pairs","t":400,"v":0.18},{"pair":"Congruent pairs","t":420,"v":-0.18},{"pair":"Congruent pairs","t":440,"v":-0.5},{"pair":"Congruent pairs","t":460,"v":-0.62},{"pair":"Congruent pairs","t":480,"v":-0.53},{"pair":"Congruent pairs","t":500,"v":-0.44},{"pair":"Congruent pairs","t":520,"v":-0.68},{"pair":"Congruent pairs","t":540,"v":-0.92},{"pair":"Congruent pairs","t":560,"v":-0.89},{"pair":"Congruent pairs","t":580,"v":-0.62},{"pair":"Congruent pairs","t":600,"v":-0.18}
],
"CD_Pz": [
{"pair":"Incongruent pairs","t":-100,"v":-0.27},{"pair":"Incongruent pairs","t":-80,"v":-0.94},{"pair":"Incongruent pairs","t":-60,"v":-0.27},{"pair":"Incongruent pairs","t":-40,"v":0.76},{"pair":"Incongruent pairs","t":-20,"v":0.8},{"pair":"Incongruent pairs","t":0,"v":0.53},{"pair":"Incongruent pairs","t":20,"v":0.44},{"pair":"Incongruent pairs","t":40,"v":0.09},{"pair":"Incongruent pairs","t":60,"v":-1.16},{"pair":"Incongruent pairs","t":80,"v":-2.4},{"pair":"Incongruent pairs","t":100,"v":-2.97},{"pair":"Incongruent pairs","t":120,"v":-2.4},{"pair":"Incongruent pairs","t":140,"v":-1.16},{"pair":"Incongruent pairs","t":160,"v":0},{"pair":"Incongruent pairs","t":180,"v":-0.09},{"pair":"Incongruent pairs","t":200,"v":-0.8},{"pair":"Incongruent pairs","t":220,"v":-0.89},{"pair":"Incongruent pairs","t":240,"v":-1.33},{"pair":"Incongruent pairs","t":260,"v":-1.51},{"pair":"Incongruent pairs","t":280,"v":-0.98},{"pair":"Incongruent pairs","t":300,"v":-0.27},{"pair":"Incongruent pairs","t":320,"v":0.36},{"pair":"Incongruent pairs","t":340,"v":0.53},{"pair":"Incongruent pairs","t":360,"v":0.44},{"pair":"Incongruent pairs","t":380,"v":-0.09},{"pair":"Incongruent pairs","t":400,"v":-0.36},{"pair":"Incongruent pairs","t":420,"v":-0.66},{"pair":"Incongruent pairs","t":440,"v":-0.18},{"pair":"Incongruent pairs","t":460,"v":0},{"pair":"Incongruent pairs","t":480,"v":0},{"pair":"Incongruent pairs","t":500,"v":0.27},{"pair":"Incongruent pairs","t":520,"v":0.36},{"pair":"Incongruent pairs","t":540,"v":0.44},{"pair":"Incongruent pairs","t":560,"v":0.62},{"pair":"Incongruent pairs","t":580,"v":0.71},{"pair":"Incongruent pairs","t":600,"v":0.84},
{"pair":"Congruent pairs","t":-100,"v":-0.27},{"pair":"Congruent pairs","t":-80,"v":-0.94},{"pair":"Congruent pairs","t":-60,"v":-0.27},{"pair":"Congruent pairs","t":-40,"v":0.71},{"pair":"Congruent pairs","t":-20,"v":0.76},{"pair":"Congruent pairs","t":0,"v":0.8},{"pair":"Congruent pairs","t":20,"v":0.89},{"pair":"Congruent pairs","t":40,"v":0.27},{"pair":"Congruent pairs","t":60,"v":-1.16},{"pair":"Congruent pairs","t":80,"v":-2.4},{"pair":"Congruent pairs","t":100,"v":-2.97},{"pair":"Congruent pairs","t":120,"v":-2.31},{"pair":"Congruent pairs","t":140,"v":-0.98},{"pair":"Congruent pairs","t":160,"v":0.44},{"pair":"Congruent pairs","t":180,"v":0.89},{"pair":"Congruent pairs","t":200,"v":0.89},{"pair":"Congruent pairs","t":220,"v":0.71},{"pair":"Congruent pairs","t":240,"v":0.62},{"pair":"Congruent pairs","t":260,"v":0.66},{"pair":"Congruent pairs","t":280,"v":0.76},{"pair":"Congruent pairs","t":300,"v":0.76},{"pair":"Congruent pairs","t":320,"v":0.71},{"pair":"Congruent pairs","t":340,"v":0.53},{"pair":"Congruent pairs","t":360,"v":0.27},{"pair":"Congruent pairs","t":380,"v":-0.09},{"pair":"Congruent pairs","t":400,"v":-0.36},{"pair":"Congruent pairs","t":420,"v":-0.62},{"pair":"Congruent pairs","t":440,"v":-0.18},{"pair":"Congruent pairs","t":460,"v":-0.18},{"pair":"Congruent pairs","t":480,"v":-0.27},{"pair":"Congruent pairs","t":500,"v":-0.53},{"pair":"Congruent pairs","t":520,"v":-0.8},{"pair":"Congruent pairs","t":540,"v":-0.66},{"pair":"Congruent pairs","t":560,"v":-0.44},{"pair":"Congruent pairs","t":580,"v":-0.3},{"pair":"Congruent pairs","t":600,"v":-0.12}
]
},
"concat": [
{"width":230,"height":160,"layer":[
{"data":{"values":[{}]},"mark":"rule","encoding":{"x":{"datum":-100,"scale":{"domain":[-219.5,606.1],"nice":false,"zero":false}},"x2":{"datum":600},"y":{"datum":0,"scale":{"domain":[-5.03,3.5],"reverse":true,"nice":false,"zero":false}}}},
{"data":{"values":[{}]},"mark":"rule","encoding":{"x":{"datum":0},"y":{"datum":-2},"y2":{"datum":2}}},
{"data":{"name":"ticks"},"mark":"rule","encoding":{"x":{"field":"t","type":"quantitative"},"y":{"datum":-0.16},"y2":{"datum":0.16}}},
{"data":{"name":"SN_Fz"},"mark":"line","encoding":{"x":{"field":"t","type":"quantitative"},"y":{"field":"v","type":"quantitative"},"strokeDash":{"field":"pair","type":"nominal","title":null,"scale":{"domain":["Congruent pairs","Incongruent pairs"],"range":[[5,3],[1,0]]}}}},
{"data":{"values":[{}]},"mark":{"type":"text","align":"left","dx":-27,"dy":1},"encoding":{"x":{"datum":-100},"y":{"datum":0},"text":{"value":"Fz"}}},
{"data":{"values":[{}]},"mark":{"type":"text","align":"center"},"encoding":{"x":{"datum":218.5},"y":{"datum":-4.18},"text":{"value":"Simple no-delay"}}},
{"data":{"values":[{}]},"mark":{"type":"text","align":"left"},"encoding":{"x":{"datum":-165.7},"y":{"datum":-2.15},"text":{"value":"-2 µV"}}},
{"data":{"values":[{}]},"mark":{"type":"text","align":"left"},"encoding":{"x":{"datum":-219.5},"y":{"datum":1.96},"text":{"value":"-100 ms"}}},
{"data":{"values":[{}]},"mark":{"type":"text","align":"left"},"encoding":{"x":{"datum":512.8},"y":{"datum":1.96},"text":{"value":"600 ms"}}},
{"data":{"values":[{}]},"mark":{"type":"text","align":"left"},"encoding":{"x":{"datum":-165.7},"y":{"datum":3.29},"text":{"value":"+2 µV"}}}
]},
{"width":230,"height":160,"layer":[
{"data":{"values":[{}]},"mark":"rule","encoding":{"x":{"datum":-100,"scale":{"domain":[-219.5,606.1],"nice":false,"zero":false}},"x2":{"datum":600},"y":{"datum":0,"scale":{"domain":[-5.1,3.43],"reverse":true,"nice":false,"zero":false}}}},
{"data":{"values":[{}]},"mark":"rule","encoding":{"x":{"datum":0},"y":{"datum":-2},"y2":{"datum":2}}},
{"data":{"name":"ticks"},"mark":"rule","encoding":{"x":{"field":"t","type":"quantitative"},"y":{"datum":-0.16},"y2":{"datum":0.16}}},
{"data":{"name":"CN_Fz"},"mark":"line","encoding":{"x":{"field":"t","type":"quantitative"},"y":{"field":"v","type":"quantitative"},"strokeDash":{"field":"pair","type":"nominal","title":null,"scale":{"domain":["Congruent pairs","Incongruent pairs"],"range":[[5,3],[1,0]]}}}},
{"data":{"values":[{}]},"mark":{"type":"text","align":"left","dx":-24,"dy":1},"encoding":{"x":{"datum":-100},"y":{"datum":0},"text":{"value":"Fz"}}},
{"data":{"values":[{}]},"mark":{"type":"text","align":"center"},"encoding":{"x":{"datum":241},"y":{"datum":-4.25},"text":{"value":"Complex no-delay"}}}
]},
{"width":230,"height":130,"layer":[
{"data":{"values":[{}]},"mark":"rule","encoding":{"x":{"datum":-100,"scale":{"domain":[-219.5,606.1],"nice":false,"zero":false}},"x2":{"datum":600},"y":{"datum":0,"scale":{"domain":[-3.47,3.47],"reverse":true,"nice":false,"zero":false}}}},
{"data":{"values":[{}]},"mark":"rule","encoding":{"x":{"datum":0},"y":{"datum":-2},"y2":{"datum":2}}},
{"data":{"name":"ticks"},"mark":"rule","encoding":{"x":{"field":"t","type":"quantitative"},"y":{"datum":-0.16},"y2":{"datum":0.16}}},
{"data":{"name":"SN_Cz"},"mark":"line","encoding":{"x":{"field":"t","type":"quantitative"},"y":{"field":"v","type":"quantitative"},"strokeDash":{"field":"pair","type":"nominal","title":null,"scale":{"domain":["Congruent pairs","Incongruent pairs"],"range":[[5,3],[1,0]]}}}},
{"data":{"values":[{}]},"mark":{"type":"text","align":"left","dx":-27,"dy":1},"encoding":{"x":{"datum":-100},"y":{"datum":0},"text":{"value":"Cz"}}}
]},
{"width":230,"height":130,"layer":[
{"data":{"values":[{}]},"mark":"rule","encoding":{"x":{"datum":-100,"scale":{"domain":[-219.5,606.1],"nice":false,"zero":false}},"x2":{"datum":600},"y":{"datum":0,"scale":{"domain":[-3.41,3.52],"reverse":true,"nice":false,"zero":false}}}},
{"data":{"values":[{}]},"mark":"rule","encoding":{"x":{"datum":0},"y":{"datum":-2},"y2":{"datum":2}}},
{"data":{"name":"ticks"},"mark":"rule","encoding":{"x":{"field":"t","type":"quantitative"},"y":{"datum":-0.16},"y2":{"datum":0.16}}},
{"data":{"name":"CN_Cz"},"mark":"line","encoding":{"x":{"field":"t","type":"quantitative"},"y":{"field":"v","type":"quantitative"},"strokeDash":{"field":"pair","type":"nominal","title":null,"scale":{"domain":["Congruent pairs","Incongruent pairs"],"range":[[5,3],[1,0]]}}}},
{"data":{"values":[{}]},"mark":{"type":"text","align":"left","dx":-24,"dy":1},"encoding":{"x":{"datum":-100},"y":{"datum":0},"text":{"value":"Cz"}}}
]},
{"width":230,"height":110,"layer":[
{"data":{"values":[{}]},"mark":"rule","encoding":{"x":{"datum":-100,"scale":{"domain":[-219.5,606.1],"nice":false,"zero":false}},"x2":{"datum":600},"y":{"datum":0,"scale":{"domain":[-3.47,2.4],"reverse":true,"nice":false,"zero":false}}}},
{"data":{"values":[{}]},"mark":"rule","encoding":{"x":{"datum":0},"y":{"datum":-2},"y2":{"datum":2}}},
{"data":{"name":"ticks"},"mark":"rule","encoding":{"x":{"field":"t","type":"quantitative"},"y":{"datum":-0.16},"y2":{"datum":0.16}}},
{"data":{"name":"SN_Pz"},"mark":"line","encoding":{"x":{"field":"t","type":"quantitative"},"y":{"field":"v","type":"quantitative"},"strokeDash":{"field":"pair","type":"nominal","title":null,"scale":{"domain":["Congruent pairs","Incongruent pairs"],"range":[[5,3],[1,0]]}}}},
{"data":{"values":[{}]},"mark":{"type":"text","align":"left","dx":-27,"dy":1},"encoding":{"x":{"datum":-100},"y":{"datum":0},"text":{"value":"Pz"}}}
]},
{"width":230,"height":110,"layer":[
{"data":{"values":[{}]},"mark":"rule","encoding":{"x":{"datum":-100,"scale":{"domain":[-219.5,606.1],"nice":false,"zero":false}},"x2":{"datum":600},"y":{"datum":0,"scale":{"domain":[-3.31,2.56],"reverse":true,"nice":false,"zero":false}}}},
{"data":{"values":[{}]},"mark":"rule","encoding":{"x":{"datum":0},"y":{"datum":-2},"y2":{"datum":2}}},
{"data":{"name":"ticks"},"mark":"rule","encoding":{"x":{"field":"t","type":"quantitative"},"y":{"datum":-0.16},"y2":{"datum":0.16}}},
{"data":{"name":"CN_Pz"},"mark":"line","encoding":{"x":{"field":"t","type":"quantitative"},"y":{"field":"v","type":"quantitative"},"strokeDash":{"field":"pair","type":"nominal","title":null,"scale":{"domain":["Congruent pairs","Incongruent pairs"],"range":[[5,3],[1,0]]}}}},
{"data":{"values":[{}]},"mark":{"type":"text","align":"left","dx":-24,"dy":1},"encoding":{"x":{"datum":-100},"y":{"datum":0},"text":{"value":"Pz"}}}
]},
{"width":230,"height":228,"layer":[
{"data":{"values":[{}]},"mark":"rule","encoding":{"x":{"datum":-100,"scale":{"domain":[-211.5,615.5],"nice":false,"zero":false}},"x2":{"datum":600},"y":{"datum":0,"scale":{"domain":[-8.71,3.45],"reverse":true,"nice":false,"zero":false}}}},
{"data":{"values":[{}]},"mark":"rule","encoding":{"x":{"datum":0},"y":{"datum":-2},"y2":{"datum":2}}},
{"data":{"name":"ticks"},"mark":"rule","encoding":{"x":{"field":"t","type":"quantitative"},"y":{"datum":-0.16},"y2":{"datum":0.16}}},
{"data":{"name":"SD_Fz"},"mark":"line","encoding":{"x":{"field":"t","type":"quantitative"},"y":{"field":"v","type":"quantitative"},"strokeDash":{"field":"pair","type":"nominal","title":null,"scale":{"domain":["Congruent pairs","Incongruent pairs"],"range":[[5,3],[1,0]]}}}},
{"data":{"values":[{}]},"mark":{"type":"text","align":"left","dx":-28,"dy":1},"encoding":{"x":{"datum":-100},"y":{"datum":0},"text":{"value":"Fz"}}},
{"data":{"values":[{}]},"mark":{"type":"text","align":"center"},"encoding":{"x":{"datum":175},"y":{"datum":-6.75},"text":{"value":"Simple delay"}}}
]},
{"width":230,"height":228,"layer":[
{"data":{"values":[{}]},"mark":"rule","encoding":{"x":{"datum":-100,"scale":{"domain":[-211.5,615.5],"nice":false,"zero":false}},"x2":{"datum":600},"y":{"datum":0,"scale":{"domain":[-8.75,3.41],"reverse":true,"nice":false,"zero":false}}}},
{"data":{"values":[{}]},"mark":"rule","encoding":{"x":{"datum":0},"y":{"datum":-2},"y2":{"datum":2}}},
{"data":{"name":"ticks"},"mark":"rule","encoding":{"x":{"field":"t","type":"quantitative"},"y":{"datum":-0.16},"y2":{"datum":0.16}}},
{"data":{"name":"CD_Fz"},"mark":"line","encoding":{"x":{"field":"t","type":"quantitative"},"y":{"field":"v","type":"quantitative"},"strokeDash":{"field":"pair","type":"nominal","title":null,"scale":{"domain":["Congruent pairs","Incongruent pairs"],"range":[[5,3],[1,0]]}}}},
{"data":{"values":[{}]},"mark":{"type":"text","align":"left","dx":-25,"dy":1},"encoding":{"x":{"datum":-100},"y":{"datum":0},"text":{"value":"Fz"}}},
{"data":{"values":[{}]},"mark":{"type":"text","align":"center"},"encoding":{"x":{"datum":198.5},"y":{"datum":-6.79},"text":{"value":"Complex delay"}}}
]},
{"width":230,"height":117,"layer":[
{"data":{"values":[{}]},"mark":"rule","encoding":{"x":{"datum":-100,"scale":{"domain":[-211.5,615.5],"nice":false,"zero":false}},"x2":{"datum":600},"y":{"datum":0,"scale":{"domain":[-3.4,2.84],"reverse":true,"nice":false,"zero":false}}}},
{"data":{"values":[{}]},"mark":"rule","encoding":{"x":{"datum":0},"y":{"datum":-2},"y2":{"datum":2}}},
{"data":{"name":"ticks"},"mark":"rule","encoding":{"x":{"field":"t","type":"quantitative"},"y":{"datum":-0.16},"y2":{"datum":0.16}}},
{"data":{"name":"SD_Cz"},"mark":"line","encoding":{"x":{"field":"t","type":"quantitative"},"y":{"field":"v","type":"quantitative"},"strokeDash":{"field":"pair","type":"nominal","title":null,"scale":{"domain":["Congruent pairs","Incongruent pairs"],"range":[[5,3],[1,0]]}}}},
{"data":{"values":[{}]},"mark":{"type":"text","align":"left","dx":-28,"dy":1},"encoding":{"x":{"datum":-100},"y":{"datum":0},"text":{"value":"Cz"}}}
]},
{"width":230,"height":117,"layer":[
{"data":{"values":[{}]},"mark":"rule","encoding":{"x":{"datum":-100,"scale":{"domain":[-211.5,615.5],"nice":false,"zero":false}},"x2":{"datum":600},"y":{"datum":0,"scale":{"domain":[-3.43,2.81],"reverse":true,"nice":false,"zero":false}}}},
{"data":{"values":[{}]},"mark":"rule","encoding":{"x":{"datum":0},"y":{"datum":-2},"y2":{"datum":2}}},
{"data":{"name":"ticks"},"mark":"rule","encoding":{"x":{"field":"t","type":"quantitative"},"y":{"datum":-0.16},"y2":{"datum":0.16}}},
{"data":{"name":"CD_Cz"},"mark":"line","encoding":{"x":{"field":"t","type":"quantitative"},"y":{"field":"v","type":"quantitative"},"strokeDash":{"field":"pair","type":"nominal","title":null,"scale":{"domain":["Congruent pairs","Incongruent pairs"],"range":[[5,3],[1,0]]}}}},
{"data":{"values":[{}]},"mark":{"type":"text","align":"left","dx":-25,"dy":1},"encoding":{"x":{"datum":-100},"y":{"datum":0},"text":{"value":"Cz"}}}
]},
{"width":230,"height":139,"layer":[
{"data":{"values":[{}]},"mark":"rule","encoding":{"x":{"datum":-100,"scale":{"domain":[-211.5,615.5],"nice":false,"zero":false}},"x2":{"datum":600},"y":{"datum":0,"scale":{"domain":[-2.67,4.75],"reverse":true,"nice":false,"zero":false}}}},
{"data":{"values":[{}]},"mark":"rule","encoding":{"x":{"datum":0},"y":{"datum":-2},"y2":{"datum":2}}},
{"data":{"name":"ticks"},"mark":"rule","encoding":{"x":{"field":"t","type":"quantitative"},"y":{"datum":-0.16},"y2":{"datum":0.16}}},
{"data":{"name":"SD_Pz"},"mark":"line","encoding":{"x":{"field":"t","type":"quantitative"},"y":{"field":"v","type":"quantitative"},"strokeDash":{"field":"pair","type":"nominal","title":null,"scale":{"domain":["Congruent pairs","Incongruent pairs"],"range":[[5,3],[1,0]]}}}},
{"data":{"values":[{}]},"mark":{"type":"text","align":"left","dx":-28,"dy":1},"encoding":{"x":{"datum":-100},"y":{"datum":0},"text":{"value":"Pz"}}}
]},
{"width":230,"height":139,"layer":[
{"data":{"values":[{}]},"mark":"rule","encoding":{"x":{"datum":-100,"scale":{"domain":[-211.5,615.5],"nice":false,"zero":false}},"x2":{"datum":600},"y":{"datum":0,"scale":{"domain":[-2.76,4.65],"reverse":true,"nice":false,"zero":false}}}},
{"data":{"values":[{}]},"mark":"rule","encoding":{"x":{"datum":0},"y":{"datum":-2},"y2":{"datum":2}}},
{"data":{"name":"ticks"},"mark":"rule","encoding":{"x":{"field":"t","type":"quantitative"},"y":{"datum":-0.16},"y2":{"datum":0.16}}},
{"data":{"name":"CD_Pz"},"mark":"line","encoding":{"x":{"field":"t","type":"quantitative"},"y":{"field":"v","type":"quantitative"},"strokeDash":{"field":"pair","type":"nominal","title":null,"scale":{"domain":["Congruent pairs","Incongruent pairs"],"range":[[5,3],[1,0]]}}}},
{"data":{"values":[{}]},"mark":{"type":"text","align":"left","dx":-25,"dy":1},"encoding":{"x":{"datum":-100},"y":{"datum":0},"text":{"value":"Pz"}}}
]}
],
"config": {
"view": {"stroke": null},
"axis": {"disable": true},
"rule": {"color": "#8c8c8c", "strokeWidth": 1},
"line": {"interpolate": "monotone", "color": "black", "strokeWidth": 1.8},
"text": {"font": "Liberation Sans", "fontSize": 16, "color": "black", "baseline": "alphabetic"},
"legend": {"orient": "none", "legendX": 283, "legendY": 845, "symbolType": "stroke", "symbolSize": 1369, "symbolStrokeWidth": 1.8, "symbolStrokeColor": "black", "labelFont": "Liberation Sans", "labelFontSize": 16, "labelColor": "black", "labelOffset": 13, "clipHeight": 16, "rowPadding": 4, "padding": 0}
}
}
